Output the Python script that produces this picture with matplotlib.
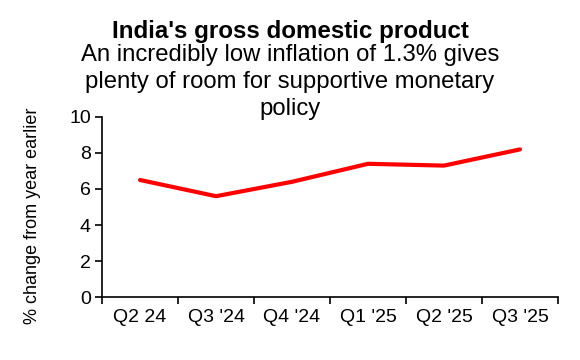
import matplotlib.pyplot as plt
import numpy as np

quarters = ["Q2 24", "Q3 '24", "Q4 '24", "Q1 '25", "Q2 '25", "Q3 '25"]
gdp_growth = [6.5, 5.6, 6.4, 7.4, 7.3, 8.2]

title = "India's gross domestic product"
subtitle_lines = ["An incredibly low inflation of 1.3% gives",
                  "plenty of room for supportive monetary",
                  "policy"]

plt.rcParams['font.family'] = ['Liberation Sans', 'DejaVu Sans']

fig = plt.figure(figsize=(5.8, 3.6), dpi=100)
ax = fig.add_axes([0.176, 0.175, 0.786, 0.5])

x = np.arange(len(quarters))
ax.plot(x, gdp_growth, color='#ff0000', lw=3, solid_capstyle='round')

ax.set_xlim(-0.5, len(quarters) - 0.5)
ax.set_ylim(0, 10)
ax.set_yticks([0, 2, 4, 6, 8, 10])

# ticks sit between categories, labels at the centres
ax.set_xticks(np.arange(-0.5, len(quarters), 1.0))
ax.set_xticklabels([])
ax.set_xticks(x, minor=True)
ax.set_xticklabels(quarters, minor=True)
ax.tick_params(axis='x', which='minor', length=0, pad=9, labelsize=14)
ax.tick_params(axis='x', which='major', length=5, width=1.2, direction='out')
ax.tick_params(axis='y', length=5, width=1.2, direction='out', labelsize=14, pad=3)

for s in ['top', 'right']:
    ax.spines[s].set_visible(False)
for s in ['left', 'bottom']:
    ax.spines[s].set_linewidth(1.2)

ax.set_ylabel("% change from year earlier", fontsize=13)
ax.yaxis.set_label_coords(-0.134, 0.45)

fig.text(0.5, 0.912, title, ha='center', va='center',
         fontsize=17.4, fontweight='bold')
# one text per line so each box hugs its own line
for i, line in enumerate(subtitle_lines):
    fig.text(0.5, 0.847 - i * 0.075, line, ha='center', va='center', fontsize=17.2)

fig.savefig("out.png", dpi=100)
